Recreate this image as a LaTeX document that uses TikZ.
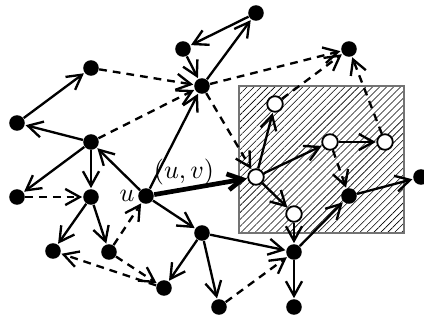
\documentclass[tikz,border=0pt]{standalone}
\usetikzlibrary{arrows.meta, positioning, patterns.meta}
\tikzset{dot/.style = {
  circle,
  fill=black,
  inner sep=0pt, minimum size=6pt
  }}
\tikzset{hollow/.style = {
  dot,
  draw=black, line width=0.7pt,
  fill=white
  }}
\tikzset{arrow/.style = {
  -{Straight Barb[length=5.6pt, width=6.2pt]},
  line width=0.9pt,
  shorten >= 0.2pt
  }}
\tikzset{link/.style = {
  arrow,
  dash pattern=on 3pt off 2.3pt
  }}
\tikzset{heavy/.style = {
  arrow,
  line width=1.8pt
  }}
\tikzset{region/.style = {
  draw=black!55, line width=0.4pt,
  pattern={Lines[angle=45, distance=1.9pt, line width=0.22pt]}
  }}

\begin{document}
\begin{tikzpicture}[x=0.385pt, y=-0.385pt]
\useasboundingbox (0,0) rectangle (424,320);

% REGION
\draw [region] (239,86) rectangle (404,233);

% NODES
\node (a) [dot] at (256,13) {};
\node (b) [dot] at (183,49) {};
\node (c) [dot] at (202,86) {};
\node (d) [dot] at (91,68) {};
\node (e) [dot] at (17,123) {};
\node (f) [dot] at (91,142) {};
\node (g) [dot] at (17,197) {};
\node (h) [dot] at (91,197) {};
\node (u) [dot] at (146,196) {};
\node (i) [dot] at (53,251) {};
\node (j) [dot] at (109,252) {};
\node (k) [dot] at (164,288) {};
\node (l) [dot] at (202,233) {};
\node (m) [dot] at (294,252) {};
\node (n) [dot] at (219,307) {};
\node (o) [dot] at (294,307) {};
\node (p) [dot] at (349,49) {};
\node (q) [dot] at (349,196) {};
\node (r) [dot] at (421,177) {};

\node (v) [hollow] at (256,177) {};
\node (w1) [hollow] at (275,104) {};
\node (w2) [hollow] at (330,142) {};
\node (w3) [hollow] at (385,142) {};
\node (w4) [hollow] at (294,214) {};

\node (ulabel) [left=0pt of u, inner sep=1pt] {$u$};

% arrows
\draw [arrow] (a) -- (b);
\draw [arrow] (c) -- (a);
\draw [arrow] (b) -- (c);
\draw [link] (d) -- (c);
\draw [link] (f) -- (c);
\draw [arrow] (u) -- (c);
\draw [link] (c) -- (p);
\draw [link] (w1) -- (p);
\draw [link] (w3) -- (p);
\draw [link] (c) -- (v);

\draw [heavy] (u) -- node (uvlabel) [pos=0.32, above, inner sep=1pt] {$(u,v)$} (v);

\draw [arrow] (v) -- (w1);
\draw [arrow] (v) -- (w2);
\draw [arrow] (w2) -- (w3);
\draw [arrow] (v) -- (w4);
\draw [link] (w2) -- (q);
\draw [arrow] (q) -- (r);
\draw [arrow] (w4) -- (m);
\draw [arrow] (m) -- (q);
\draw [arrow] (l) -- (m);
\draw [link] (n) -- (m);
\draw [arrow] (m) -- (o);

\draw [arrow] (u) -- (l);
\draw [arrow] (l) -- (k);
\draw [arrow] (l) -- (n);
\draw [link] (j) -- (u);
\draw [link] (k) -- (i);
\draw [link] (j) -- (k);

\draw [arrow] (h) -- (i);
\draw [arrow] (h) -- (j);
\draw [link] (g) -- (h);
\draw [arrow] (f) -- (g);
\draw [arrow] (f) -- (h);
\draw [arrow] (f) -- (e);
\draw [arrow] (e) -- (d);
\draw [arrow] (u) -- (f);
\end{tikzpicture}
\end{document}
